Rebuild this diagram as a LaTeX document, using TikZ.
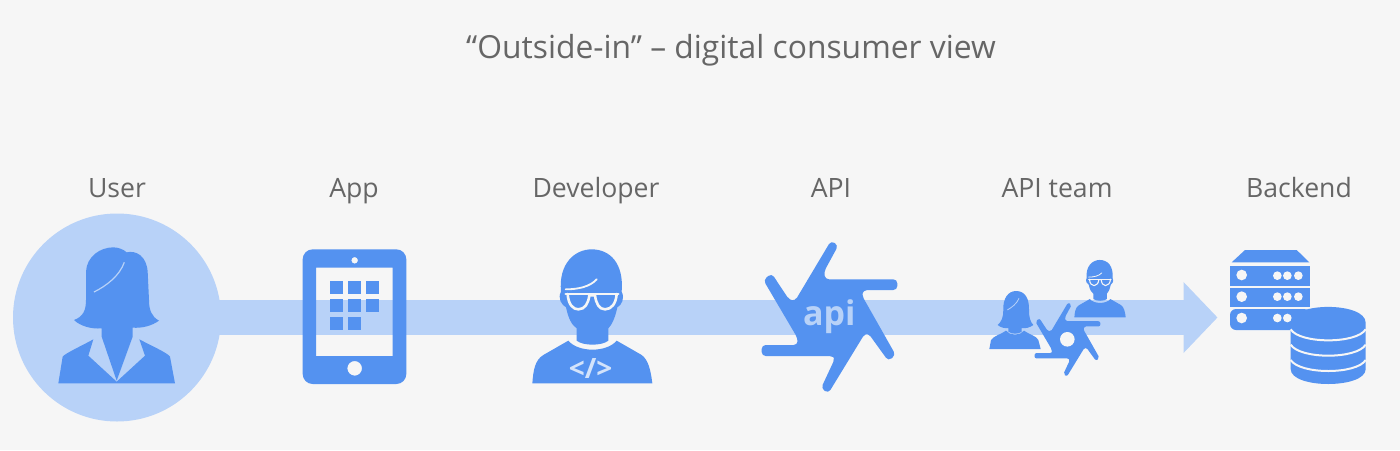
\documentclass[tikz,border=0pt]{standalone}
\usepackage{fontspec}
\setmainfont{Open Sans}
\usetikzlibrary{arrows.meta}
\definecolor{bgc}{HTML}{F6F6F6}
\definecolor{dark}{HTML}{5492F0}
\definecolor{lite}{HTML}{B8D2F8}
\definecolor{pale}{HTML}{D3E3FB}
\definecolor{txt}{HTML}{666666}
\tikzset{
  lbl/.style={text=txt,font=\fontsize{13.3pt}{15pt}\selectfont,anchor=base,inner sep=0pt},
  ttl/.style={text=txt,font=\fontsize{15.9pt}{20pt}\selectfont,anchor=base,inner sep=0pt},
  ico/.style={fill=dark,draw=none},
  cut/.style={draw=bgc,fill=none,line cap=round},
  lit/.style={draw=lite,fill=none,line cap=round}
}
\newcommand{\devfig}[1]{%
  \fill[dark] (183,215) .. controls (175,130) and (225,88) .. (275,88)
    .. controls (330,88) and (372,130) .. (365,215)
    .. controls (375,235) and (365,255) .. (352,262)
    .. controls (345,295) and (335,315) .. (325,325) -- (325,362)
    .. controls (305,378) and (250,378) .. (230,362) -- (230,325)
    .. controls (215,315) and (205,295) .. (198,262)
    .. controls (185,255) and (172,235) .. (183,215) -- cycle;
  \fill[dark] (97,490) .. controls (100,450) and (105,420) .. (130,405)
    -- (205,362) .. controls (235,398) and (320,398) .. (350,362)
    -- (425,405) .. controls (445,420) and (452,450) .. (457,490) -- cycle;
  \draw[cut,line width=0.7*#1] (197,208) .. controls (235,208) and (270,200) .. (290,178);
  \draw[cut,line width=#1] (197,222) -- (355,222);
  \draw[cut,line width=#1,line join=round] (203,222) .. controls (205,255) and (220,268) .. (235,268)
    .. controls (255,268) and (265,250) .. (268,226) -- (285,226)
    .. controls (288,250) and (297,268) .. (315,268)
    .. controls (335,268) and (348,250) .. (350,222);
}
\newcommand{\aperture}[1]{%
  \fill[dark,rounded corners=#1]
    (993,62) -- (1015,76) -- (972,155) -- (975,178) -- (1192,178) -- (1192,210)
    -- (1090,210) -- (1085,225) -- (1187,405) -- (1165,423) -- (1105,340) -- (1095,340)
    -- (985,520) -- (963,505) -- (1005,415) -- (1000,408) -- (785,408) -- (785,375)
    -- (893,375) -- (893,355) -- (790,180) -- (815,160) -- (868,240) -- (885,243) -- cycle;
}
\begin{document}
\begin{tikzpicture}[x=0.5pt,y=-0.5pt]
\useasboundingbox (0,0) rectangle (1400,450);
\fill[bgc] (0,0) rectangle (1400,450);

% texts
\node[ttl] (title) at (731,58) {“Outside-in” – digital consumer view};
\node[lbl] (luser) at (117,197) {User};
\node[lbl] (lapp) at (354,197) {App};
\node[lbl] (ldev) at (596,197) {Developer};
\node[lbl] (lapi) at (831,197) {API};
\node[lbl] (lteam) at (1057,197) {API team};
\node[lbl] (lback) at (1299,197) {Backend};

% user disc and flow arrow
\coordinate (tip) at (1217.5,317.5);
\node[circle,fill=lite,draw=none,minimum size=104pt,inner sep=0pt] (user) at (117,317.5) {};
\draw[lite,line width=17.5pt,-{Triangle[length=17pt,width=34.5pt]}] (user.center) -- (tip);

% woman
\begin{scope}[shift={(0,200)},scale=1/3]
  \fill[dark] (222,360) .. controls (250,350) and (258,330) .. (258,300)
    -- (258,215) .. controls (260,170) and (300,142) .. (340,142)
    .. controls (355,142) and (370,148) .. (380,157)
    .. controls (410,150) and (440,170) .. (443,215) -- (447,300)
    .. controls (447,330) and (455,350) .. (477,362)
    .. controls (455,378) and (425,385) .. (398,383) -- (398,410)
    -- (350,542) -- (305,410) -- (305,385)
    .. controls (275,388) and (240,378) .. (222,360) -- cycle;
  \fill[dark] (175,550) -- (188,470) .. controls (195,460) and (250,435) .. (280,418)
    -- (265,467) -- (350,545) -- (435,467) -- (418,418)
    .. controls (450,435) and (505,460) .. (510,470) -- (525,550) -- cycle;
  \draw[lite,line width=0.6pt] (282,276) .. controls (320,257) and (358,228) .. (373,187);
\end{scope}

% tablet
\begin{scope}[shift={(0,200)},scale=1/3]
  \fill[dark,even odd rule,rounded corners=5pt] (908,148) rectangle (1219,552)
    [sharp corners] (948,203) rectangle (1178,468)
    (1064,181) circle (10) (1064,505) circle (22);
  \foreach \x/\y in {989/242,1044/242,1098/242,989/296,1044/296,1098/296,989/350,1044/350}
    \fill[dark] (\x,\y) rectangle ++(40,40);
\end{scope}

% developer
\begin{scope}[shift={(500,220)},scale=1/3]
  \devfig{1.3pt}
  \node[text=pale,font=\fontsize{14pt}{16pt}\selectfont\bfseries,inner sep=0pt] (code) at (272,446) {</>};
\end{scope}

% api
\begin{scope}[shift={(500,220)},scale=1/3]
  \aperture{2pt}
  \node[text=lite,font=\fontsize{17pt}{20pt}\selectfont\bfseries,inner sep=0pt] (apitxt) at (988,291) {api};
\end{scope}

% api team
\begin{scope}[shift={(970,230)},scale=1/3]
  \fill[dark] (83,285) .. controls (95,275) and (100,260) .. (100,240)
    .. controls (98,205) and (115,183) .. (138,183)
    .. controls (165,183) and (178,205) .. (177,240)
    .. controls (177,260) and (180,275) .. (190,285)
    .. controls (180,293) and (165,296) .. (155,294) -- (155,305)
    .. controls (145,313) and (125,313) .. (115,305) -- (115,294)
    .. controls (105,296) and (93,293) .. (83,285) -- cycle;
  \fill[dark] (58,357) -- (63,330) .. controls (70,318) and (95,312) .. (108,302)
    .. controls (120,318) and (150,318) .. (162,302)
    .. controls (175,312) and (200,318) .. (205,330) -- (212,357) -- cycle;
  \draw[lite,line width=0.4pt] (112,240) .. controls (125,232) and (140,222) .. (147,205);
\end{scope}
\begin{scope}[shift={(1060.5,247.4)},scale=0.1427]
  \devfig{0.55pt}
\end{scope}
\begin{scope}[shift={(907.6,292.45)},scale=0.1617]
  \aperture{1pt}
\end{scope}
\fill[bgc] (1067.3,339.3) circle (7.3);

% backend
\begin{scope}[shift={(970,230)},scale=1/3]
  \fill[dark] (785,97) -- (825,60) -- (980,60) -- (1018,97) -- cycle;
  \fill[dark] (780,107) rectangle (1020,167);
  \fill[dark] (780,173) rectangle (1020,230);
  \fill[dark,rounded corners=3pt] (780,237) -- (1020,237) -- (1020,300) -- (780,300) -- cycle;
  \foreach \y in {135,200,264} \fill[bgc] (815,\y) circle (16);
  \foreach \x/\y in {922/137,952/137,985/137,922/200,952/200,985/200,922/264,952/264}
    \fill[bgc] (\x,\y) circle (13);
  \fill[dark] (962,278) .. controls (962,215) and (1187,215) .. (1187,278)
    -- (1187,417) .. controls (1187,477) and (962,477) .. (962,417) -- cycle;
  \foreach \d in {0,46,92}
    \draw[cut,line width=1pt,line cap=butt] (962,298+\d) .. controls (990,342+\d) and (1160,342+\d) .. (1187,298+\d);
\end{scope}
\end{tikzpicture}
\end{document}
